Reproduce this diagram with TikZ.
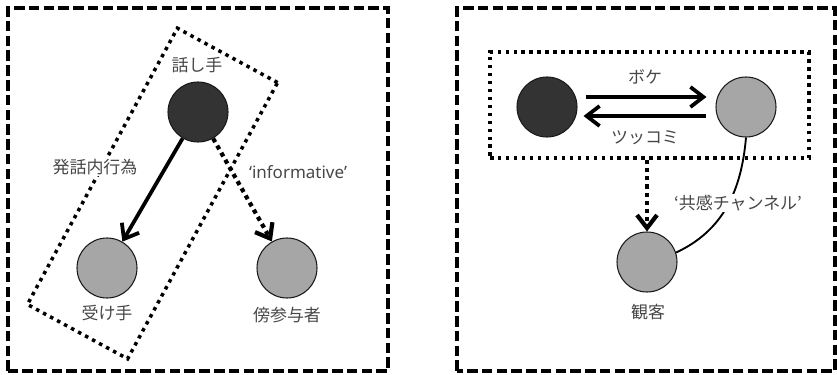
\documentclass[tikz,border=0pt]{standalone}
\usepackage{fontspec}
\newfontfamily\jpfont{Noto Sans CJK JP}
\newfontfamily\lafont{Noto Sans}
\usetikzlibrary{arrows.meta}
\colorlet{col1}{black!80}
\colorlet{col2}{black!35}
\colorlet{txtcol}{black!72}

\begin{document}
\begin{tikzpicture}[font=\jpfont\fontsize{14.5}{17}\selectfont, every node/.style={text=txtcol},
	    person/.style={circle, draw=black!90, line width=0.9pt, minimum size=1.8cm, inner sep=0pt},
	    frame/.style={draw, line width=2.8pt, dash pattern=on 9pt off 3.6pt},
	    dotbox/.style={draw, line width=3pt, dash pattern=on 3pt off 3.8pt, inner sep=0pt},
	    act/.style={line width=3.2pt, -{Straight Barb[length=3.9mm,width=6mm]}},
	    side/.style={act, line width=3.6pt, dash pattern=on 3.6pt off 3.4pt}]
	    \useasboundingbox (0,0) rectangle (25.11,11.22);

		% left panel: speech act
		\draw[frame] (0.24,0.09) rectangle (11.64,10.98);
		\node[dotbox, minimum width=3.42cm, minimum height=9.43cm, rotate=-28.5] (grp) at (4.575,5.415) {};
		\node[person, fill=col1] (spk) at (5.94,7.86) {};
		\node[person, fill=col2] (rec) at (3.21,3.18) {};
		\node[person, fill=col2] (byst) at (8.61,3.18) {};
		\node (spklab) at (5.91,9.27) {話し手};
		\node (reclab) at (3.21,1.83) {受け手};
		\node (bystlab) at (8.61,1.77) {傍参与者};
		\node[fill=white, inner sep=1pt] (illoc) at (2.85,6.21) {発話内行為};
		\node (info) at (8.94,6.06) {\lafont ‘informative’};
		\draw[act] (spk) -- (rec);
		\draw[side] (spk) -- (byst);

		% right panel: manzai
		\draw[frame] (13.71,0.09) rectangle (25.05,10.98);
		\node[dotbox, minimum width=9.57cm, minimum height=3.18cm] (pair) at (19.485,8.07) {};
		\node[person, fill=col1] (boke) at (16.41,8.01) {};
		\node[person, fill=col2] (tsuk) at (22.38,8.01) {};
		\node[person, fill=col2] (aud) at (19.41,3.36) {};
		\node (bokelab) at (19.35,8.91) {ボケ};
		\node (tsuklab) at (19.35,7.08) {ツッコミ};
		\node (audlab) at (19.44,1.86) {観客};
		\draw[act] ([shift={(0.24,0.3)}]boke.east) -- ([shift={(-0.27,0.3)}]tsuk.west);
		\draw[act] ([shift={(-0.27,-0.27)}]tsuk.west) -- ([shift={(0.18,-0.27)}]boke.east);
		\draw[side] (aud.north |- pair.south) -- (aud.north);
		\draw[line width=1.6pt] (tsuk.south) to[out=-95, in=25] (aud.18);
		\node[fill=white, inner sep=1pt] (chan) at (22.14,5.13) {‘共感チャンネル’};
	  \end{tikzpicture}
\end{document}
